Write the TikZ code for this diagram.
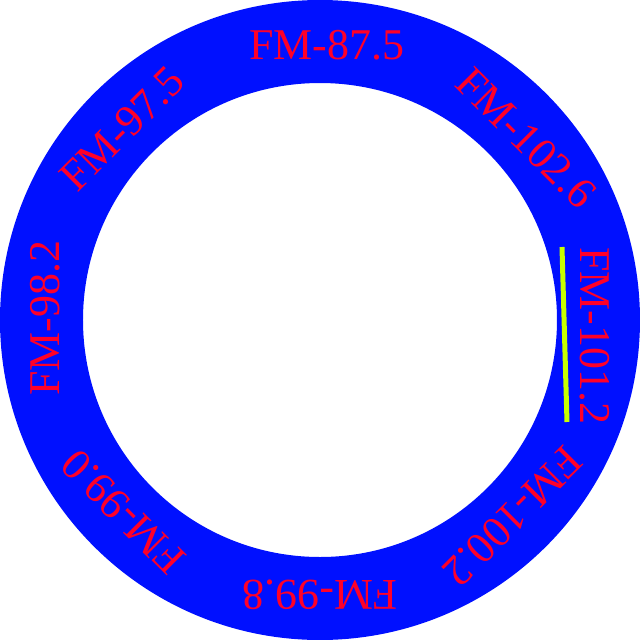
\documentclass[tikz,border=0pt]{standalone}
\usepackage{fontspec}
\setmainfont{Liberation Serif}
\usepackage{xcolor}
\usepackage{tikz}

\definecolor{ringblue}{RGB}{0,16,255}
\definecolor{freqred}{RGB}{255,0,40}
\definecolor{marker}{RGB}{200,255,0}

\begin{document}
\begin{tikzpicture}[
    freqlabel/.style={text=freqred, font=\fontsize{12.5}{14}\selectfont, inner sep=0pt},
    ring/.style={fill=ringblue, even odd rule},
]
    % Canvas
    \fill[white] (-3.2,-3.2) rectangle (3.2,3.2);
    \useasboundingbox (-3.2,-3.2) rectangle (3.2,3.2);

    % Dial ring
    \fill[ring] (0,0) circle (3.2) (0,0) circle (2.37);

    % Station labels (angle of position / rotation / text)
    \foreach \pos/\rot/\txt [count=\i] in {
        88.6/0/87.5, 41.4/-45/102.6, -3.3/-90/101.2, -45.6/-135/100.2,
        -90/180/99.8, -135.7/135/99.0, 179.6/90/98.2, 136/45/97.5}
        \node[freqlabel, rotate=\rot] (station\i) at (\pos:2.75) {FM-\txt};

    % Tuning marker
    \draw[marker, line width=0.05cm] (2.42,0.73) -- (2.47,-1.02);
\end{tikzpicture}
\end{document}
